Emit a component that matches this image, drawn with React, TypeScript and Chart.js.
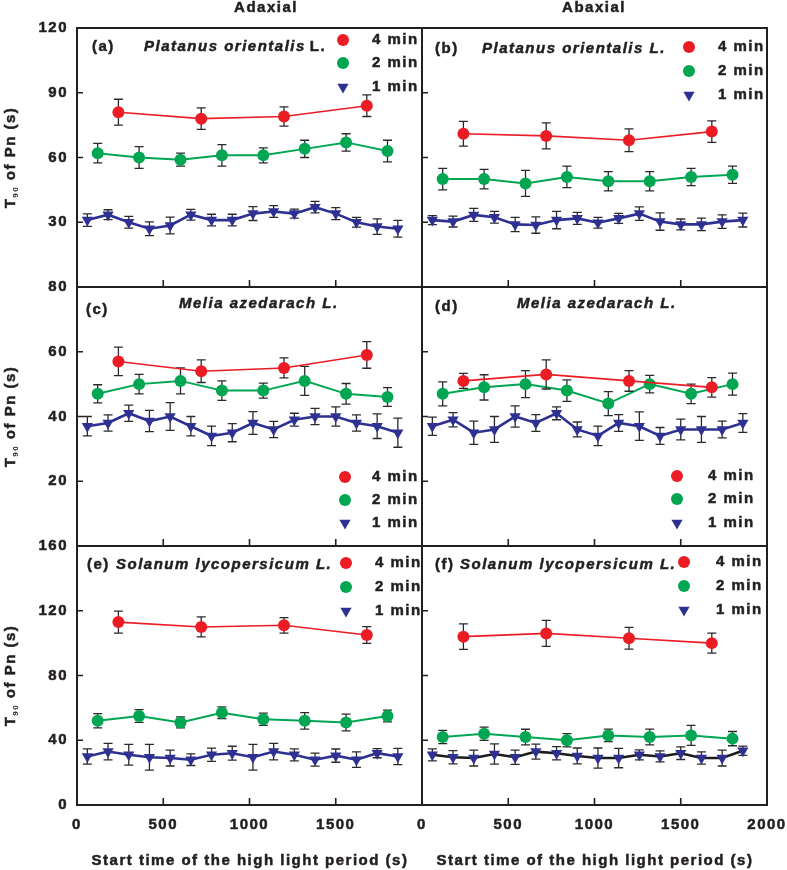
import React, { useEffect, useRef } from 'react';
import { Chart, registerables } from 'chart.js';

Chart.register(...registerables);

// ---------- data ----------
const X_4MIN = [240, 720, 1200, 1680];
const X_2MIN = [120, 360, 600, 840, 1080, 1320, 1560, 1800];
const X_1MIN = [60, 180, 300, 420, 540, 660, 780, 900, 1020, 1140, 1260, 1380, 1500, 1620, 1740, 1860];

const X_TICKS = [0, 500, 1000, 1500, 2000];
const Y_TICKS_TOP = [0, 30, 60, 90, 120];
const Y_TICKS_MID = [0, 20, 40, 60, 80];
const Y_TICKS_BOT = [0, 40, 80, 120, 160];

const SERIES_LABELS = ['4 min', '2 min', '1 min'];

// (a) Platanus orientalis, adaxial
const A4 = [81, 78, 79, 84];
const A4E = [6, 5, 4.5, 5];
const A2 = [62, 60, 59, 61, 61, 64, 67, 63];
const A2E = [4.5, 5, 3, 5, 3.5, 4, 4, 5];
const A1 = [31, 33.5, 30, 27, 28.5, 33.5, 31, 31, 34, 35, 34, 37, 34, 30, 28, 27];
const A1E = [2.9, 2.3, 2.7, 3.2, 3.9, 2.5, 2.7, 2.7, 3.2, 2.7, 2.1, 2.7, 2.8, 2.3, 3.6, 3.9];

// (b) Platanus orientalis, abaxial
const B4 = [71, 70, 68, 72];
const B4E = [5.7, 6, 5.3, 5];
const B2 = [50, 50, 48, 51, 49, 49, 51, 52];
const B2E = [5, 4.5, 6, 5, 4.5, 4.5, 4, 4];
const B1 = [31, 30.3, 33.4, 32.3, 29, 28.7, 31, 31.8, 29.8, 31.8, 34, 30.3, 29, 29, 30.3, 31];
const B1E = [2.1, 2.5, 3, 2.7, 3.3, 3.8, 4, 2.8, 2.5, 2.3, 3.1, 4, 2.5, 2.9, 3.1, 3.2];

// (c) Melia azedarach, adaxial
const C4 = [57, 54, 55, 59];
const C4E = [4.4, 3.5, 3.1, 4.1];
const C2 = [47, 50, 51, 48, 48, 51, 47, 46];
const C2E = [2.8, 3, 4, 3, 2.3, 4.5, 3.2, 2.9];
const C1 = [37, 38, 41, 38.6, 40, 37, 34, 35, 38, 36, 39, 40, 40, 38, 37, 35];
const C1E = [3, 2.5, 2.5, 3.3, 4.3, 3, 3, 2.8, 3.5, 2.5, 2, 2.5, 3, 2.5, 3.8, 4.5];

// (d) Melia azedarach, abaxial
const D4 = [51, 53, 51, 49];
const D4E = [2.3, 4.5, 3.2, 3];
const D2 = [47, 49, 50, 48, 44, 50, 47, 50];
const D2E = [3.7, 3.9, 4.2, 3.3, 3.7, 2.7, 3, 3.4];
const D1 = [37, 39, 35, 36, 40, 38, 41, 36, 34, 38, 37, 34, 36, 36, 36, 38];
const D1E = [2.8, 2.2, 3.6, 4, 3.3, 2.6, 2, 2.3, 3, 2.6, 4.4, 2.6, 3.2, 4, 2.6, 2.9];

// (e) Solanum lycopersicum, adaxial
const E4 = [113, 110, 111, 105];
const E4E = [6.8, 6.2, 4.8, 5.2];
const E2 = [52, 55, 51, 57, 53, 52, 51, 55];
const E2E = [4.4, 3.9, 3.4, 3.6, 3.8, 5.1, 5.2, 3.6];
const E1 = [30, 33, 31, 29.5, 29, 28, 31, 32, 29.5, 33, 31, 28, 30.5, 28, 32, 30];
const E1E = [4.7, 5.1, 6.4, 7.9, 4.9, 3.6, 4.1, 4.3, 8, 5.1, 3.7, 4, 4.1, 4.8, 2.8, 5];

// (f) Solanum lycopersicum, abaxial
const F4 = [104, 106, 103, 100];
const F4E = [7.9, 8, 6.7, 6.2];
const F2 = [42, 44, 42, 40, 43, 42, 43, 41];
const F2E = [4.1, 4.1, 4.8, 4.1, 3.9, 4.9, 6.2, 4.4];
const F1 = [31, 29.5, 29, 31.5, 29.5, 33, 32, 30.3, 29, 29, 31, 30, 32, 29, 29, 33.5];
const F1E = [3.7, 4.1, 4.9, 6.2, 4.4, 4.6, 4.1, 4.9, 6.2, 6, 3.1, 3.4, 3.9, 3.8, 4.9, 2.9];

// ---------- style ----------
const W = 787;
const H = 870;
const RED = '#ec1c24';
const GREEN = '#00a651';
const BLUE = '#2e3192';
const INK = '#231f20';
const FAM = '"Liberation Sans", Arial, Helvetica, sans-serif';
const SPACING = '1.5px';
const STROKE = 0.5;
const F_BOLD = `bold 15px ${FAM}`;
const F_ITAL = `italic bold 15px ${FAM}`;

const COL_X = [
  [77, 422],
  [422, 767],
];
const ROW_Y = [
  [28, 287],
  [287, 546],
  [546, 805],
];

type TextItem = { text: string; x: number; y: number; font: string; align?: CanvasTextAlign };
type Panel = {
  key: string;
  col: number;
  row: number;
  yTicks: number[];
  hideZeroY: boolean;
  d4: number[]; e4: number[];
  d2: number[]; e2: number[];
  d1: number[]; e1: number[];
  line1Color: string;
  texts: TextItem[];
  legend: { mx: number; tx: number; ys: number[] };
};

const PANELS: Panel[] = [
  {
    key: 'a', col: 0, row: 0, yTicks: Y_TICKS_TOP, hideZeroY: true,
    d4: A4, e4: A4E, d2: A2, e2: A2E, d1: A1, e1: A1E, line1Color: BLUE,
    texts: [
      { text: '(a)', x: 92, y: 47, font: F_BOLD },
      { text: 'Platanus orientalis', x: 144, y: 47, font: F_ITAL },
      { text: '#L.', x: 0, y: 47, font: F_BOLD },
      { text: 'Adaxial', x: 266, y: 8, font: F_BOLD, align: 'center' },
    ],
    legend: { mx: 343, tx: 372, ys: [40, 63, 87] },
  },
  {
    key: 'b', col: 1, row: 0, yTicks: Y_TICKS_TOP, hideZeroY: true,
    d4: B4, e4: B4E, d2: B2, e2: B2E, d1: B1, e1: B1E, line1Color: BLUE,
    texts: [
      { text: '(b)', x: 435, y: 49, font: F_BOLD },
      { text: 'Platanus orientalis L.', x: 482, y: 49, font: F_ITAL },
      { text: 'Abaxial', x: 594, y: 8, font: F_BOLD, align: 'center' },
    ],
    legend: { mx: 689, tx: 718, ys: [47, 71, 95] },
  },
  {
    key: 'c', col: 0, row: 1, yTicks: Y_TICKS_MID, hideZeroY: true,
    d4: C4, e4: C4E, d2: C2, e2: C2E, d1: C1, e1: C1E, line1Color: BLUE,
    texts: [
      { text: '(c)', x: 86, y: 310, font: F_BOLD },
      { text: 'Melia azedarach L.', x: 179, y: 304, font: F_ITAL },
    ],
    legend: { mx: 345, tx: 372, ys: [477, 500, 523] },
  },
  {
    key: 'd', col: 1, row: 1, yTicks: Y_TICKS_MID, hideZeroY: true,
    d4: D4, e4: D4E, d2: D2, e2: D2E, d1: D1, e1: D1E, line1Color: BLUE,
    texts: [
      { text: '(d)', x: 435, y: 307, font: F_BOLD },
      { text: 'Melia azedarach L.', x: 517, y: 304, font: F_ITAL },
    ],
    legend: { mx: 677, tx: 708, ys: [476, 499, 523] },
  },
  {
    key: 'e', col: 0, row: 2, yTicks: Y_TICKS_BOT, hideZeroY: false,
    d4: E4, e4: E4E, d2: E2, e2: E2E, d1: E1, e1: E1E, line1Color: BLUE,
    texts: [
      { text: '(e)', x: 87, y: 565, font: F_BOLD },
      { text: 'Solanum lycopersicum L.', x: 116, y: 565, font: F_ITAL },
      { text: 'Start time of the high light period (s)', x: 250, y: 861, font: F_BOLD, align: 'center' },
    ],
    legend: { mx: 346, tx: 375, ys: [563, 587, 611] },
  },
  {
    key: 'f', col: 1, row: 2, yTicks: Y_TICKS_BOT, hideZeroY: false,
    d4: F4, e4: F4E, d2: F2, e2: F2E, d1: F1, e1: F1E, line1Color: '#1c1c1c',
    texts: [
      { text: '(f)', x: 435, y: 565, font: F_BOLD },
      { text: 'Solanum lycopersicum L.', x: 460, y: 565, font: F_ITAL },
      { text: 'Start time of the high light period (s)', x: 595, y: 861, font: F_BOLD, align: 'center' },
    ],
    legend: { mx: 684, tx: 716, ys: [562, 586, 610] },
  },
];

function pts(xs: number[], ys: number[]) {
  return ys.map((y, i) => ({ x: xs[i], y }));
}

function fillStroke(ctx: any, s: string, x: number, y: number) {
  ctx.fillText(s, x, y);
  ctx.lineWidth = STROKE;
  ctx.strokeStyle = INK;
  ctx.strokeText(s, x, y);
}

function drawText(ctx: any, t: TextItem, xOverride?: number) {
  ctx.save();
  ctx.letterSpacing = SPACING;
  ctx.font = t.font;
  ctx.fillStyle = INK;
  ctx.textAlign = t.align || 'left';
  ctx.textBaseline = 'middle';
  fillStroke(ctx, t.text, xOverride ?? t.x, t.y);
  ctx.restore();
}

function drawYTitle(ctx: any, cx: number, cy: number) {
  ctx.save();
  ctx.letterSpacing = SPACING;
  ctx.translate(cx, cy);
  ctx.rotate(-Math.PI / 2);
  const f1 = F_BOLD;
  const f2 = `bold 8px ${FAM}`;
  ctx.font = f1;
  const wT = ctx.measureText('T').width;
  ctx.font = f2;
  const wS = ctx.measureText('90').width;
  ctx.font = f1;
  const wR = ctx.measureText(' of Pn (s)').width;
  let x = -(wT + wS + wR) / 2;
  ctx.fillStyle = INK;
  ctx.textAlign = 'left';
  ctx.textBaseline = 'alphabetic';
  const base = 5;
  ctx.font = f1;
  fillStroke(ctx, 'T', x, base);
  x += wT;
  ctx.font = f2;
  ctx.fillText('90', x, base + 3);
  x += wS;
  ctx.font = f1;
  fillStroke(ctx, ' of Pn (s)', x, base);
  ctx.restore();
}

function drawMarker(ctx: any, kind: string, color: string, x: number, y: number) {
  ctx.save();
  ctx.fillStyle = color;
  ctx.beginPath();
  if (kind === 'circle') {
    ctx.arc(x, y, 6, 0, Math.PI * 2);
  } else {
    const r = 6.5;
    ctx.moveTo(x, y + r);
    ctx.lineTo(x - r * 0.866, y - r * 0.5);
    ctx.lineTo(x + r * 0.866, y - r * 0.5);
    ctx.closePath();
  }
  ctx.fill();
  ctx.restore();
}

function buildConfig(p: Panel): any {
  const [L, R] = COL_X[p.col];
  const [T, B] = ROW_Y[p.row];
  const leftCol = p.col === 0;
  const bottomRow = p.row === 2;
  const yMax = p.yTicks[p.yTicks.length - 1];

  const mk = (label: string, xs: number[], ys: number[], errs: number[], color: string, lineColor: string, lw: number, tri: boolean) => ({
    label,
    data: pts(xs, ys),
    errs,
    borderColor: lineColor,
    backgroundColor: color,
    borderWidth: lw,
    pointStyle: tri ? 'triangle' : 'circle',
    pointRotation: tri ? 180 : 0,
    pointRadius: tri ? 6.5 : 6,
    pointBorderWidth: 0,
    pointBackgroundColor: color,
    pointHoverRadius: tri ? 6.5 : 6,
    tension: 0,
    fill: false,
  });

  const datasets = [
    mk(SERIES_LABELS[0], X_4MIN, p.d4, p.e4, RED, RED, 1.6, false),
    mk(SERIES_LABELS[1], X_2MIN, p.d2, p.e2, GREEN, GREEN, 2, false),
    mk(SERIES_LABELS[2], X_1MIN, p.d1, p.e1, BLUE, p.line1Color, 2.6, true),
  ];

  const tickFont = { family: FAM, size: 15, weight: 'bold' };

  const deco = {
    id: 'deco',
    beforeDraw(chart: any) {
      chart.ctx.letterSpacing = SPACING;
    },
    beforeDatasetDraw(chart: any, args: any) {
      const ds = chart.data.datasets[args.index];
      const errs: number[] = ds.errs;
      if (!errs) return;
      const xs = chart.scales.x;
      const ys = chart.scales.y;
      const ctx = chart.ctx;
      ctx.save();
      ctx.strokeStyle = '#2a2a2a';
      ctx.lineWidth = 1.3;
      ds.data.forEach((pt: any, i: number) => {
        const x = xs.getPixelForValue(pt.x);
        const y1 = ys.getPixelForValue(pt.y + errs[i]);
        const y2 = ys.getPixelForValue(pt.y - errs[i]);
        ctx.beginPath();
        ctx.moveTo(x, y1);
        ctx.lineTo(x, y2);
        ctx.moveTo(x - 4.5, y1);
        ctx.lineTo(x + 4.5, y1);
        ctx.moveTo(x - 4.5, y2);
        ctx.lineTo(x + 4.5, y2);
        ctx.stroke();
      });
      ctx.restore();
    },
    afterDraw(chart: any) {
      const ctx = chart.ctx;
      const a = chart.chartArea;
      const xs = chart.scales.x;
      const ys = chart.scales.y;
      ctx.save();
      ctx.strokeStyle = INK;
      ctx.lineWidth = 2;
      ctx.strokeRect(a.left, a.top, a.right - a.left, a.bottom - a.top);
      ctx.lineWidth = 1.6;
      ctx.beginPath();
      p.yTicks.forEach((v) => {
        if (v === p.yTicks[0] || v === yMax) return;
        const y = ys.getPixelForValue(v);
        ctx.moveTo(a.left, y);
        ctx.lineTo(a.left + 6, y);
      });
      X_TICKS.forEach((v) => {
        if (v === X_TICKS[0] || v === X_TICKS[X_TICKS.length - 1]) return;
        const x = xs.getPixelForValue(v);
        ctx.moveTo(x, a.bottom);
        ctx.lineTo(x, a.bottom - 7);
      });
      ctx.stroke();
      ctx.restore();

      // texts
      let lastEnd = 0;
      p.texts.forEach((t) => {
        if (t.text.startsWith('#')) {
          drawText(ctx, { ...t, text: t.text.slice(1) }, lastEnd + 4);
          return;
        }
        drawText(ctx, t);
        ctx.save();
        ctx.letterSpacing = SPACING;
        ctx.font = t.font;
        lastEnd = t.x + ctx.measureText(t.text).width;
        ctx.restore();
      });

      // legend
      const kinds = ['circle', 'circle', 'triangle'];
      const colors = [RED, GREEN, BLUE];
      chart.data.datasets.forEach((ds: any, i: number) => {
        const y = p.legend.ys[i];
        drawMarker(ctx, kinds[i], colors[i], p.legend.mx, y);
        drawText(ctx, { text: ds.label, x: p.legend.tx, y, font: F_BOLD });
      });

      if (leftCol) drawYTitle(ctx, 10, (a.top + a.bottom) / 2);
    },
  };

  return {
    type: 'line',
    data: { datasets },
    plugins: [deco],
    options: {
      animation: false,
      responsive: false,
      maintainAspectRatio: false,
      events: [],
      layout: {
        padding: {
          left: leftCol ? 0 : L,
          right: W - R,
          top: T,
          bottom: bottomRow ? H - B - 40 : H - B,
        },
      },
      plugins: { legend: { display: false }, tooltip: { enabled: false } },
      scales: {
        x: {
          type: 'linear',
          min: X_TICKS[0],
          max: X_TICKS[X_TICKS.length - 1],
          display: bottomRow,
          grid: { display: false, drawTicks: false },
          border: { display: false },
          afterBuildTicks: (s: any) => {
            s.ticks = X_TICKS.map((v) => ({ value: v }));
          },
          ticks: {
            autoSkip: false,
            maxRotation: 0,
            padding: 11,
            color: INK,
            textStrokeColor: INK,
            textStrokeWidth: STROKE,
            font: tickFont,
            callback: (v: number) => (leftCol && v === X_TICKS[X_TICKS.length - 1] ? '' : String(v)),
          },
          afterFit: (s: any) => {
            s.height = bottomRow ? 40 : 0;
            s.paddingLeft = 0;
            s.paddingRight = 0;
          },
        },
        y: {
          type: 'linear',
          min: p.yTicks[0],
          max: yMax,
          display: leftCol,
          grid: { display: false, drawTicks: false },
          border: { display: false },
          afterBuildTicks: (s: any) => {
            s.ticks = p.yTicks.map((v) => ({ value: v }));
          },
          ticks: {
            padding: 9,
            color: INK,
            textStrokeColor: INK,
            textStrokeWidth: STROKE,
            font: tickFont,
            callback: (v: number) => (p.hideZeroY && v === 0 ? '' : String(v)),
          },
          afterFit: (s: any) => {
            s.width = leftCol ? 77 : 0;
            s.paddingTop = 0;
            s.paddingBottom = 0;
          },
        },
      },
    },
  };
}

function PanelChart({ p }: { p: Panel }) {
  const ref = useRef<HTMLCanvasElement>(null);
  useEffect(() => {
    const chart = new Chart(ref.current as HTMLCanvasElement, buildConfig(p));
    return () => chart.destroy();
  }, [p]);
  return (
    <canvas
      ref={ref}
      width={W}
      height={H}
      style={{ position: 'absolute', left: 0, top: 0, width: W, height: H }}
    />
  );
}

export default function App() {
  return (
    <div
      style={{
        position: 'absolute',
        left: 0,
        top: 0,
        width: W,
        height: H,
        background: '#ffffff',
        overflow: 'hidden',
      }}
    >
      {PANELS.map((p) => (
        <PanelChart key={p.key} p={p} />
      ))}
    </div>
  );
}
